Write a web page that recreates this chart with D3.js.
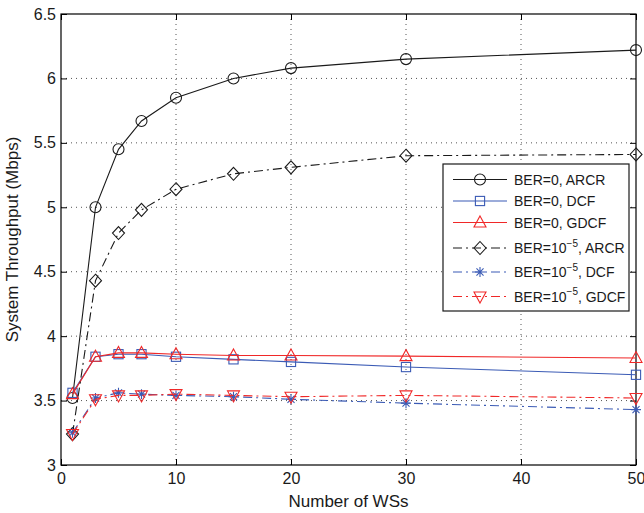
<!DOCTYPE html>
<html>
<head>
<meta charset="utf-8">
<script src="https://cdn.jsdelivr.net/npm/d3@7"></script>
<style>
  html, body { margin: 0; padding: 0; background: #fff; }
  svg { display: block; font-family: "Liberation Sans", Arial, Helvetica, sans-serif; }
</style>
</head>
<body>
<svg id="chart" width="644" height="513"></svg>
<script>
// Number of wireless stations on the x axis
const numWS = [1, 3, 5, 7, 10, 15, 20, 30, 50];

// System throughput (Mbps) for each scheme
const arcrBer0  = [3.52, 5.00, 5.45, 5.67, 5.85, 6.00, 6.08, 6.15, 6.22];
const dcfBer0   = [3.56, 3.84, 3.86, 3.86, 3.84, 3.82, 3.80, 3.76, 3.70];
const gdcfBer0  = [3.55, 3.84, 3.87, 3.87, 3.86, 3.85, 3.85, 3.845, 3.83];
const arcrBer5  = [3.24, 4.43, 4.80, 4.98, 5.14, 5.26, 5.31, 5.40, 5.41];
const dcfBer5   = [3.25, 3.52, 3.56, 3.55, 3.54, 3.53, 3.51, 3.48, 3.43];
const gdcfBer5  = [3.24, 3.51, 3.54, 3.54, 3.55, 3.54, 3.53, 3.54, 3.52];

const xTicks = [0, 10, 20, 30, 40, 50];
const yTicks = [3, 3.5, 4, 4.5, 5, 5.5, 6, 6.5];

const series = [
  { label: "BER=0, ARCR",   exp: null, values: arcrBer0, color: "#1a1a1a", dash: null, marker: "circle" },
  { label: "BER=0, DCF",    exp: null, values: dcfBer0,  color: "#3b5bb5", dash: null, marker: "square" },
  { label: "BER=0, GDCF",   exp: null, values: gdcfBer0, color: "#f02828", dash: null, marker: "triangleUp" },
  { label: "BER=10", exp: "−5", tail: ", ARCR", values: arcrBer5, color: "#1a1a1a", dash: "9,4,2,4", marker: "diamond" },
  { label: "BER=10", exp: "−5", tail: ", DCF",  values: dcfBer5,  color: "#3b5bb5", dash: "9,4,2,4", marker: "star" },
  { label: "BER=10", exp: "−5", tail: ", GDCF", values: gdcfBer5, color: "#f02828", dash: "9,4,2,4", marker: "triangleDown" }
];

const svg = d3.select("#chart");
const margin = { left: 61, top: 14, right: 8, bottom: 48 };
const W = 644, H = 513;
const x = d3.scaleLinear().domain([0, 50]).range([margin.left, W - margin.right]);
const y = d3.scaleLinear().domain([3, 6.5]).range([H - margin.bottom, margin.top]);
const x0 = x.range()[0], x1 = x.range()[1], y0 = y.range()[0], y1 = y.range()[1];

// dotted grid
const grid = svg.append("g");
grid.selectAll("line.vg").data(xTicks.slice(1, -1)).join("line")
  .attr("x1", d => x(d)).attr("x2", d => x(d)).attr("y1", y0).attr("y2", y1)
  .attr("stroke", "#555").attr("stroke-width", 1).attr("stroke-dasharray", "1,4");
grid.selectAll("line.hg").data(yTicks.slice(1, -1)).join("line")
  .attr("x1", x0).attr("x2", x1).attr("y1", d => y(d)).attr("y2", d => y(d))
  .attr("stroke", "#555").attr("stroke-width", 1).attr("stroke-dasharray", "1,4");

// axes with inward ticks, boxed
const tickFont = 16;
const xAxis = d3.axisBottom(x).tickValues(xTicks).tickSizeInner(-6).tickSizeOuter(0).tickPadding(8).tickFormat(d3.format("d"));
const yAxis = d3.axisLeft(y).tickValues(yTicks).tickSizeInner(-6).tickSizeOuter(0).tickPadding(5).tickFormat(d => d);
const gx = svg.append("g").attr("transform", `translate(0,${y0})`).call(xAxis);
const gy = svg.append("g").attr("transform", `translate(${x0},0)`).call(yAxis);
[gx, gy].forEach(g => {
  g.select(".domain").remove();
  g.selectAll(".tick line").attr("stroke", "#000");
  g.selectAll(".tick text").attr("fill", "#1a1a1a").style("font-size", tickFont + "px")
    .style("font-family", "'Liberation Sans', Arial, sans-serif");
});
// ticks on top and right edges
const gxt = svg.append("g").attr("transform", `translate(0,${y1})`)
  .call(d3.axisTop(x).tickValues(xTicks).tickSizeInner(-6).tickSizeOuter(0).tickFormat(""));
const gyr = svg.append("g").attr("transform", `translate(${x1},0)`)
  .call(d3.axisRight(y).tickValues(yTicks).tickSizeInner(-6).tickSizeOuter(0).tickFormat(""));
[gxt, gyr].forEach(g => { g.select(".domain").remove(); g.selectAll(".tick line").attr("stroke", "#000"); });

svg.append("rect").attr("x", x0).attr("y", y1).attr("width", x1 - x0).attr("height", y0 - y1)
  .attr("fill", "none").attr("stroke", "#000").attr("stroke-width", 1.2);

// axis titles
svg.append("text").attr("x", (x0 + x1) / 2).attr("y", 507).attr("text-anchor", "middle")
  .style("font-size", "17px").attr("fill", "#1a1a1a").text("Number of WSs");
svg.append("text").attr("transform", `translate(18,${(y0 + y1) / 2}) rotate(-90)`).attr("text-anchor", "middle")
  .style("font-size", "17px").attr("fill", "#1a1a1a").text("System Throughput (Mbps)");

// marker drawing
function drawMarker(g, type, cx, cy, color) {
  const s = g.append("g").attr("transform", `translate(${cx},${cy})`);
  const common = el => el.attr("fill", "none").attr("stroke", color).attr("stroke-width", 1.1);
  if (type === "circle") common(s.append("circle").attr("r", 5.5));
  else if (type === "square") common(s.append("rect").attr("x", -4.6).attr("y", -4.6).attr("width", 9.2).attr("height", 9.2));
  else if (type === "triangleUp") common(s.append("path").attr("d", "M0,-6.5L6,4.5L-6,4.5Z"));
  else if (type === "triangleDown") common(s.append("path").attr("d", "M0,6.5L6,-4.5L-6,-4.5Z"));
  else if (type === "diamond") common(s.append("path").attr("d", "M0,-6.5L6,0L0,6.5L-6,0Z"));
  else if (type === "star") {
    const r = 5;
    const d = [0, 45, 90, 135].map(a => {
      const t = a * Math.PI / 180;
      return `M${-r * Math.cos(t)},${-r * Math.sin(t)}L${r * Math.cos(t)},${r * Math.sin(t)}`;
    }).join("");
    common(s.append("path").attr("d", d));
  }
}

// series lines and markers
const line = d3.line().x(d => x(d[0])).y(d => y(d[1]));
const plot = svg.append("g");
series.forEach(s => {
  const pts = numWS.map((n, i) => [n, s.values[i]]);
  plot.append("path").datum(pts).attr("d", line).attr("fill", "none")
    .attr("stroke", s.color).attr("stroke-width", 1.1)
    .attr("stroke-dasharray", s.dash);
  pts.forEach(p => drawMarker(plot, s.marker, x(p[0]), y(p[1]), s.color));
});

// legend
const lg = svg.append("g");
const lx = 443, ly = 164, lw = 186, lh = 147;
lg.append("rect").attr("x", lx).attr("y", ly).attr("width", lw).attr("height", lh)
  .attr("fill", "#fff").attr("stroke", "#1a1a1a").attr("stroke-width", 1.2);
const rowY = [179.5, 201, 222.5, 248, 272, 296.5];
series.forEach((s, i) => {
  const ry = rowY[i];
  lg.append("line").attr("x1", 453).attr("x2", 507).attr("y1", ry).attr("y2", ry)
    .attr("stroke", s.color).attr("stroke-width", 1.1).attr("stroke-dasharray", s.dash);
  drawMarker(lg, s.marker, 480, ry, s.color);
  const t = lg.append("text").attr("x", 514).attr("y", ry + 5)
    .style("font-size", "14px").attr("fill", "#1a1a1a");
  t.append("tspan").text(s.label);
  if (s.exp) {
    t.append("tspan").attr("dy", -6.5).style("font-size", "10px").text(s.exp);
    t.append("tspan").attr("dy", 6.5).text(s.tail);
  }
});
</script>
</body>
</html>
